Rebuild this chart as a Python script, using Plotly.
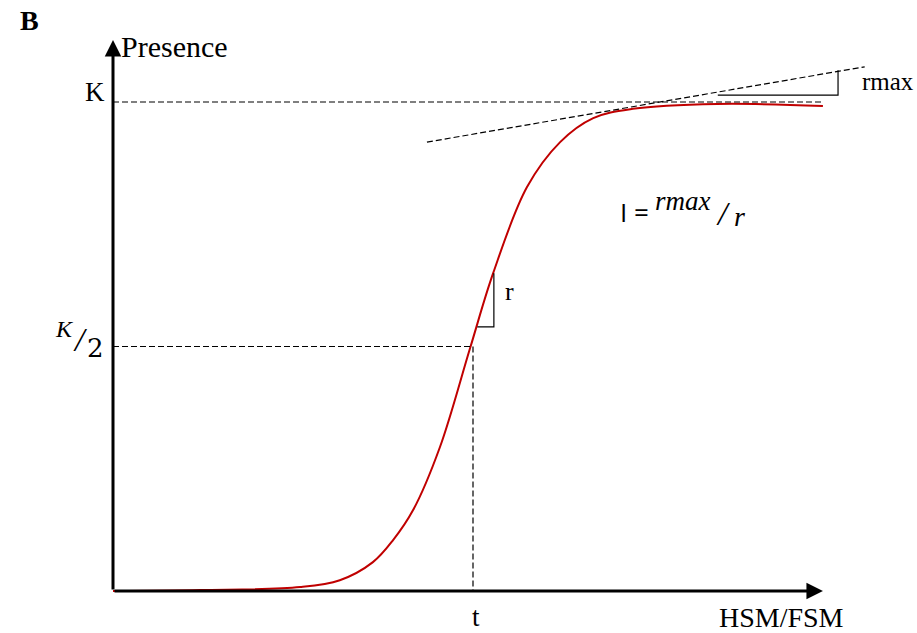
import plotly.graph_objects as go

# Logistic-type response: presence vs. HSM/FSM (K = 1, inflection at t = 5)
curve_x = [0.0, 1.21, 2.60, 3.15, 3.61, 3.89, 4.17, 4.54, 4.96, 5.28, 5.75, 6.21, 6.67, 7.22, 8.39, 9.86]
curve_y = [0.0, 0.002, 0.008, 0.022, 0.059, 0.104, 0.166, 0.294, 0.497, 0.650, 0.826, 0.918, 0.967, 0.986, 0.996, 0.992]

K = 1.0
t_infl = 5.0
x_end = 9.86
y_end = 1.127

# tangent near the plateau (r_max) and at the inflection (r)
rmax_line_x = [4.36, 10.44]
rmax_line_y = [0.918, 1.072]
rmax_tri_x = [8.40, 10.07, 10.07]
rmax_tri_y = [1.014, 1.014, 1.065]
r_tri_x = [5.06, 5.29, 5.29]
r_tri_y = [0.540, 0.540, 0.650]

PX0, PY0, SX, SY = 113, 591, 72.0, 489.0
DASH = "6px,3px"

fig = go.Figure()

fig.add_trace(go.Scatter(x=curve_x, y=curve_y, mode="lines",
                         line=dict(color="#c00000", width=2, shape="spline", smoothing=1.0),
                         hoverinfo="skip", showlegend=False))
fig.add_trace(go.Scatter(x=rmax_line_x, y=rmax_line_y, mode="lines", line=dict(color="black", width=1.2, dash=DASH),
                         hoverinfo="skip", showlegend=False))
fig.add_trace(go.Scatter(x=rmax_tri_x, y=rmax_tri_y, mode="lines", line=dict(color="black", width=1.2),
                         hoverinfo="skip", showlegend=False))
fig.add_trace(go.Scatter(x=r_tri_x, y=r_tri_y, mode="lines", line=dict(color="black", width=1.2),
                         hoverinfo="skip", showlegend=False))
# reference lines: K, K/2 and t
fig.add_trace(go.Scatter(x=[0, x_end], y=[K, K], mode="lines", line=dict(color="black", width=1.2, dash=DASH),
                         hoverinfo="skip", showlegend=False))
fig.add_trace(go.Scatter(x=[0, t_infl, t_infl], y=[K / 2, K / 2, 0], mode="lines",
                         line=dict(color="black", width=1.2, dash=DASH), hoverinfo="skip", showlegend=False))

serif = "Liberation Serif, DejaVu Serif, serif"
ann = []
# axes with arrowheads
ann.append(dict(x=0, y=y_end, ax=0, ay=0, xref="x", yref="y", axref="x", ayref="y", showarrow=True,
                arrowhead=2, arrowsize=1.1, arrowwidth=3, arrowcolor="black", text=""))
ann.append(dict(x=x_end, y=0, ax=0, ay=0, xref="x", yref="y", axref="x", ayref="y", showarrow=True,
                arrowhead=2, arrowsize=1.1, arrowwidth=3, arrowcolor="black", text=""))


def px(xp, yp):
    return (xp - PX0) / SX, (PY0 - yp) / SY


def txt(xp, yp, s, size, xanchor="center", family=serif, color="black"):
    x, y = px(xp, yp)
    ann.append(dict(x=x, y=y, xref="x", yref="y", text=s, showarrow=False, xanchor=xanchor, yanchor="middle",
                    font=dict(family=family, size=size, color=color)))


txt(29, 20, "<b>B</b>", 28)
txt(119, 46, "Presence", 30, xanchor="left")
txt(95, 92, "K", 27)
txt(476, 617, "t", 27)
txt(781, 617, "HSM/FSM", 28)
txt(509, 291, "r", 26)
txt(888, 81, "rmax", 25)
# K/2 label
txt(64, 329, "<i>K</i>", 24)
txt(80, 339, "<i>/</i>", 34)
txt(95, 348, "2", 26, family="DejaVu Serif, serif")
# I = r_max / r
txt(634, 212, "I =", 26, family="Open Sans, DejaVu Sans, sans-serif")
txt(683, 201, "<i>rmax</i>", 27)
txt(723, 213, "<i>/</i>", 34)
txt(739, 216, "<i>r</i>", 28)

fig.update_layout(
    width=917, height=633, margin=dict(l=0, r=0, t=0, b=0),
    paper_bgcolor="white", plot_bgcolor="white",
    xaxis=dict(range=[-PX0 / SX, (917 - PX0) / SX], visible=False, fixedrange=True),
    yaxis=dict(range=[(PY0 - 633) / SY, PY0 / SY], visible=False, fixedrange=True),
    annotations=ann, showlegend=False,
)

fig.write_html("out.html")
